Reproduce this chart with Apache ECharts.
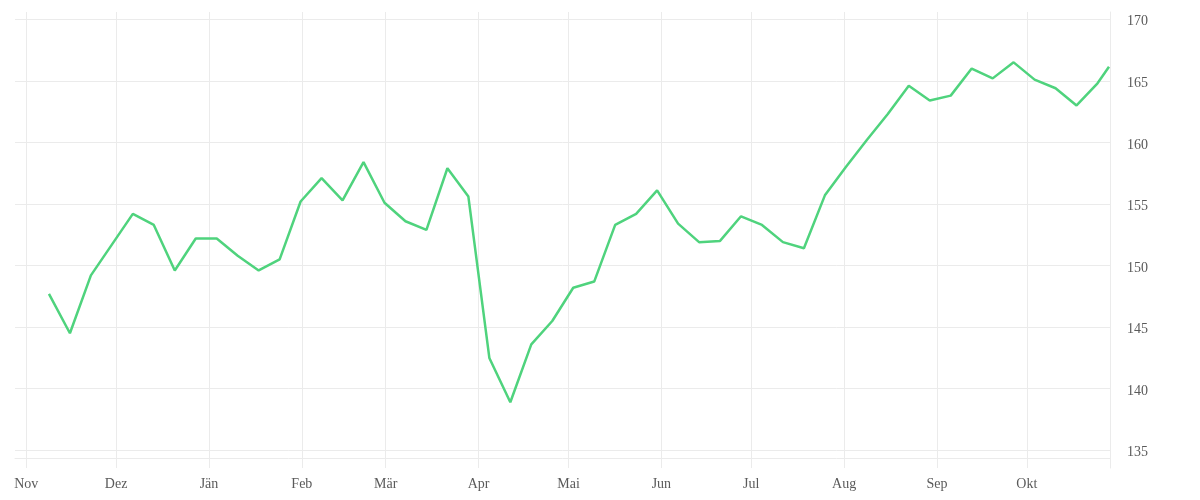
<!DOCTYPE html>
<html>
<head>
<meta charset="utf-8">
<script src="https://cdn.jsdelivr.net/npm/echarts@6/dist/echarts.min.js"></script>
<style>html,body{margin:0;padding:0;background:#fff;}#c{width:1200px;height:500px;}</style>
</head>
<body>
<div id="c"></div>
<script>
// Weekly observation dates
const dates = [
  '2022-11-08 14:00','2022-11-15 14:00','2022-11-22 14:00','2022-11-29 14:00',
  '2022-12-06 14:00','2022-12-13 14:00','2022-12-20 14:00','2022-12-27 14:00',
  '2023-01-03 14:00','2023-01-10 14:00','2023-01-17 14:00','2023-01-24 14:00','2023-01-31 14:00',
  '2023-02-07 14:00','2023-02-14 14:00','2023-02-21 14:00','2023-02-28 14:00',
  '2023-03-07 14:00','2023-03-14 14:00','2023-03-21 14:00','2023-03-28 14:00',
  '2023-04-04 14:00','2023-04-11 14:00','2023-04-18 14:00','2023-04-25 14:00',
  '2023-05-02 14:00','2023-05-09 14:00','2023-05-16 14:00','2023-05-23 14:00','2023-05-30 14:00',
  '2023-06-06 14:00','2023-06-13 14:00','2023-06-20 14:00','2023-06-27 14:00',
  '2023-07-04 14:00','2023-07-11 14:00','2023-07-18 14:00','2023-07-25 14:00',
  '2023-08-01 14:00','2023-08-08 14:00','2023-08-15 14:00','2023-08-22 14:00','2023-08-29 14:00',
  '2023-09-05 14:00','2023-09-12 14:00','2023-09-19 14:00','2023-09-26 14:00',
  '2023-10-03 14:00','2023-10-10 14:00','2023-10-17 14:00','2023-10-24 14:00','2023-10-28 10:00'
];
// Series values
const values = [
  147.7,144.5,149.2,151.7,
  154.2,153.3,149.6,152.2,
  152.2,150.8,149.6,150.5,155.2,
  157.1,155.3,158.4,155.1,
  153.6,152.9,157.9,155.6,
  142.5,138.9,143.6,145.5,
  148.2,148.7,153.3,154.2,156.1,
  153.4,151.9,152.0,154.0,
  153.3,151.9,151.4,155.7,
  158.0,160.2,162.3,164.6,163.4,
  163.8,166.0,165.2,166.5,
  165.1,164.4,163.0,164.8,166.15
];
// Axis ticks
const monthTicks = ['2022-11-01','2022-12-01','2023-01-01','2023-02-01','2023-03-01','2023-04-01',
  '2023-05-01','2023-06-01','2023-07-01','2023-08-01','2023-09-01','2023-10-01'];
const monthNames = ['Jän','Feb','Mär','Apr','Mai','Jun','Jul','Aug','Sep','Okt','Nov','Dez'];
const yTicks = [135,140,145,150,155,160,165,170];
const xMin = '2022-10-28 06:00';
const xMax = '2023-10-28 18:00';
const yMin = 133.56;
const yMax = 170.59;

function toTs(s){
  const m = s.match(/(\d+)-(\d+)-(\d+)(?:\s+(\d+):(\d+))?/);
  return new Date(+m[1], +m[2]-1, +m[3], m[4]?+m[4]:0, m[5]?+m[5]:0).getTime();
}
const tickTs = monthTicks.map(toTs);
const seriesData = dates.map((d,i)=>[toTs(d), values[i]]);

const font = '"Liberation Serif", "DejaVu Serif", serif';
const chart = echarts.init(document.getElementById('c'), null, {renderer:'canvas'});
chart.setOption({
  animation:false,
  backgroundColor:'#ffffff',
  grid:{left:15, right:90, top:12, bottom:32, containLabel:false},
  xAxis:{
    type:'value',
    min:toTs(xMin), max:toTs(xMax),
    offset:-10,
    axisLine:{show:true, lineStyle:{color:'#ebebeb', width:1}},
    axisTick:{show:false, customValues:tickTs},
    splitLine:{show:true, lineStyle:{color:'#ebebeb', width:1}},
    axisLabel:{
      customValues:tickTs,
      margin:19,
      color:'#5a5a5a',
      fontFamily:font,
      fontSize:14,
      formatter:function(v){ return monthNames[new Date(v).getMonth()]; }
    }
  },
  yAxis:{
    type:'value',
    position:'right',
    min:yMin, max:yMax,
    axisLine:{show:true, lineStyle:{color:'#ebebeb', width:1}},
    axisTick:{show:false, customValues:yTicks},
    splitLine:{show:true, lineStyle:{color:'#ebebeb', width:1}},
    axisLabel:{
      customValues:yTicks,
      margin:17,
      verticalAlign:'top',
      lineHeight:5,
      color:'#5a5a5a',
      fontFamily:font,
      fontSize:14
    }
  },
  series:[{
    type:'line',
    data:seriesData,
    showSymbol:false,
    symbol:'none',
    clip:true,
    lineStyle:{color:'#4fd37d', width:2.5},
    itemStyle:{color:'#4fd37d'}
  }]
});
</script>
</body>
</html>
